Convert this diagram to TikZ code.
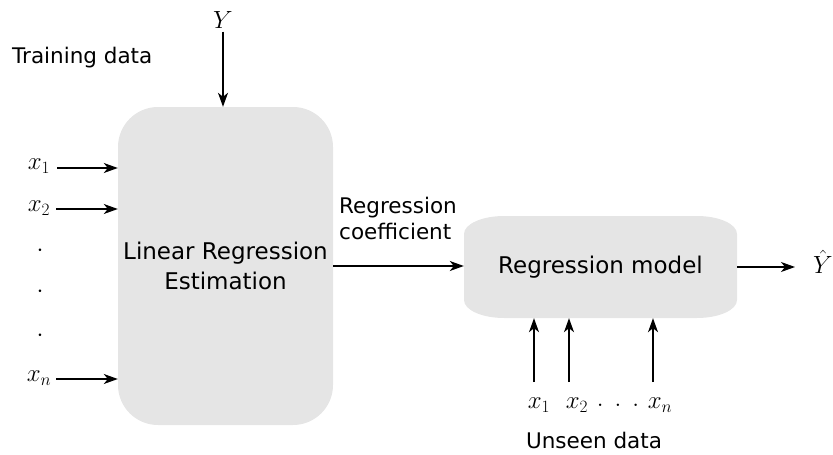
\documentclass[tikz,border=0pt]{standalone}
\usepackage[no-math]{fontspec}
\setmainfont{DejaVu Sans}
\usetikzlibrary{arrows.meta}
\definecolor{boxgrey}{HTML}{E5E5E5}
\tikzset{
  conn/.style={line width=1.2pt,-{Stealth[length=14pt,width=10pt,inset=4pt]}},
  lbl/.style={font=\fontsize{21.5}{26}\selectfont, inner sep=0pt},
  boxlbl/.style={font=\fontsize{23}{30}\selectfont, inner sep=0pt, align=center},
  mth/.style={font=\fontsize{26}{30}\selectfont, inner sep=0pt},
}
\begin{document}
\begin{tikzpicture}[x=1pt,y=-1pt]
\useasboundingbox (0,0) rectangle (833,455);
% left box
\node[fill=boxgrey, rounded corners=40pt, minimum width=215pt, minimum height=318pt, inner sep=0pt] (lre) at (225.5,266) {};
\node[boxlbl] (lretxt) at (225.5,266) {Linear Regression\\Estimation};
% right box
\fill[boxgrey] (464,234) arc[start angle=180,end angle=270,x radius=40,y radius=18]
  -- (697,216) arc[start angle=270,end angle=360,x radius=40,y radius=18]
  -- (737,300) arc[start angle=0,end angle=90,x radius=40,y radius=18]
  -- (504,318) arc[start angle=90,end angle=180,x radius=40,y radius=18] -- cycle;
\node[minimum width=273pt, minimum height=102pt, inner sep=0pt] (model) at (600.5,267) {};
\node[boxlbl] at (600.5,267) {Regression model};
% top
\node[lbl, anchor=west] (train) at (12,58) {Training data};
\node[mth] (Y) at (223,20) {$Y$};
\draw[conn] (Y.south) ++(0,3) coordinate (ys) -- (ys |- lre.north);
% inputs left
\node[mth] (x1) at (39,166) {$x_1$};
\node[mth] (x2) at (39,208) {$x_2$};
\node[mth] (xn) at (39,378) {$x_n$};
\node[mth] (d1) at (40,251) {$\cdot$};
\node[mth] (d2) at (40,292) {$\cdot$};
\node[mth] (d3) at (40,336) {$\cdot$};
\draw[conn] (57,168) coordinate (a1) -- (a1 -| lre.west);
\draw[conn] (56,209) coordinate (a2) -- (a2 -| lre.west);
\draw[conn] (56,379) coordinate (an) -- (an -| lre.west);
% coefficient
\draw[conn] (lre.east |- 0,266) -- (model.west |- 0,266);
\node[lbl, anchor=west, align=left] (coef) at (339,218) {Regression\\coefficient};
% output
\node[mth, anchor=west] (Yhat) at (813,262) {$\hat{Y}$};
\draw[conn] (model.east |- 0,267) -- (795,267) coordinate (yo);
% unseen inputs
\node[mth] (u1) at (539,405) {$x_1$};
\node[mth] (u2) at (577,405) {$x_2$};
\node[mth] (udots) at (618,405) {$.\;\,.\;\,.$};
\node[mth] (un) at (660,405) {$x_n$};
\draw[conn] (534,382) coordinate (b1) -- (b1 |- model.south);
\draw[conn] (569,382) coordinate (b2) -- (b2 |- model.south);
\draw[conn] (653,382) coordinate (bn) -- (bn |- model.south);
\node[lbl] (unseen) at (594,440) {Unseen data};
\end{tikzpicture}
\end{document}
